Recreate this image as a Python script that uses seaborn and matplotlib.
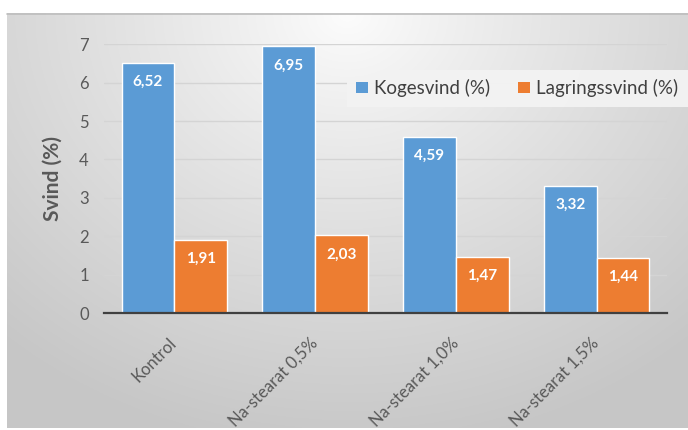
import numpy as np
import pandas as pd
import matplotlib
matplotlib.use("Agg")
import matplotlib.pyplot as plt
import seaborn as sns
from matplotlib.patches import Patch

categories = ["Kontrol", "Na-stearat 0,5%", "Na-stearat 1,0%", "Na-stearat 1,5%"]
kogesvind = [6.52, 6.95, 4.59, 3.32]
lagringssvind = [1.91, 2.03, 1.47, 1.44]
series_names = ["Kogesvind (%)", "Lagringssvind (%)"]
y_ticks = [0, 1, 2, 3, 4, 5, 6, 7]

df = pd.DataFrame({
    "Kategori": categories * 2,
    "Serie": [series_names[0]] * 4 + [series_names[1]] * 4,
    "Værdi": kogesvind + lagringssvind,
})

sns.set_theme(style="white")
plt.rcParams["font.family"] = ["Lato", "DejaVu Sans"]

W, H = 688, 430
fig = plt.figure(figsize=(W / 100, H / 100), dpi=100, facecolor="white")

# gradient background panel
bg = fig.add_axes([7 / W, 2 / H, 1 - 7 / W, (H - 13 - 2) / H])
bg.set_axis_off()
nx, ny = 400, 250
xs = np.linspace(0, 1, nx)
ys = np.linspace(0, 1, ny)  # 0 = top
X, Y = np.meshgrid(xs, ys)
r = np.sqrt(((X - 0.5) / 0.75) ** 2 + (Y / 1.05) ** 2)
r = np.clip(r, 0, 1)
c0, c1 = 0.99, 0.78
val = c0 + (c1 - c0) * r ** 0.9
img = np.dstack([val, val, val])
bg.imshow(img, aspect="auto", extent=[0, 1, 0, 1], origin="upper")
fig.add_artist(plt.Line2D([7 / W, 1], [1 - 13.5 / H, 1 - 13.5 / H], color="#BDBDBD", lw=1.2))

ax = fig.add_axes([104 / W, (H - 313) / H, 563 / W, (313 - 44.3) / H])
ax.patch.set_alpha(0)

palette = {series_names[0]: "#5B9BD5", series_names[1]: "#ED7D31"}
sns.barplot(data=df, x="Kategori", y="Værdi", hue="Serie", palette=palette,
            width=0.75, saturation=1, ax=ax, legend=False, zorder=3)

ax.set_ylim(0, 7)
ax.set_xlim(-0.5, len(categories) - 0.5)
ax.set_yticks(y_ticks)
ax.set_yticklabels([str(t) for t in y_ticks], fontsize=12, color="#595959")
ax.yaxis.grid(True, color="#D4D4D4", lw=1.0, zorder=0)
ax.set_axisbelow(True)
for s in ["top", "right", "left"]:
    ax.spines[s].set_visible(False)
ax.spines["bottom"].set_color("#404040")
ax.spines["bottom"].set_linewidth(1.6)
ax.spines["bottom"].set_zorder(5)
ax.tick_params(axis="both", length=0)
ax.tick_params(axis="y", pad=11)
ax.tick_params(axis="x", pad=20)
ax.set_xticks(range(len(categories)))
ax.set_xticklabels(categories, rotation=45, ha="right", va="center", rotation_mode="anchor",
                   fontsize=12, color="#595959")
ax.set_xlabel("")
ax.set_ylabel("Svind (%)", fontsize=15, fontweight="bold", color="#595959", labelpad=12)

for cont in ax.containers:
    for bar in cont:
        h = bar.get_height()
        ax.annotate(f"{h:.2f}".replace(".", ","),
                    (bar.get_x() + bar.get_width() / 2, h),
                    xytext=(0, -14), textcoords="offset points",
                    ha="center", va="center", color="white",
                    fontsize=11, fontweight="bold", zorder=6)

handles = [Patch(facecolor=palette[n], edgecolor="none") for n in series_names]
leg = ax.legend(handles, series_names, loc="center left", bbox_to_anchor=(0.415, 0.837),
                ncol=2, frameon=True, fontsize=13.5, handlelength=0.6, handleheight=0.6,
                handletextpad=0.35, columnspacing=1.5, borderpad=0.5, fancybox=False)
leg.get_frame().set_facecolor("#F3F3F3")
leg.get_frame().set_edgecolor("none")
leg.get_frame().set_alpha(0.95)
for t in leg.get_texts():
    t.set_color("#404040")

fig.savefig("out.png", dpi=100, facecolor="white")
